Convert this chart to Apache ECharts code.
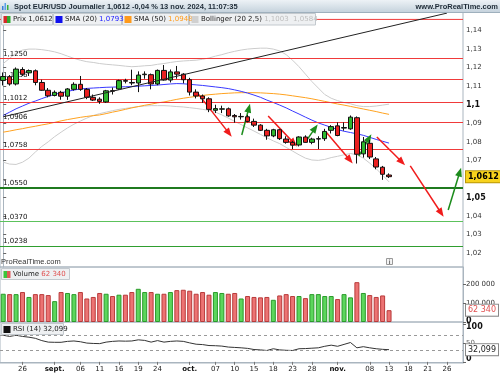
<!DOCTYPE html>
<html>
<head>
<meta charset="utf-8">
<script src="https://cdn.jsdelivr.net/npm/echarts@6/dist/echarts.min.js"></script>
<style>html,body{margin:0;padding:0;background:#fff}#chart{width:500px;height:375px}</style>
</head>
<body>
<div id="chart"></div>
<script>
// trading days, last one is 13 nov. 2024; the rest is empty space on the right
const dates = ['08-21','08-22','08-23','08-26','08-27','08-28','08-29','08-30',
  '09-02','09-03','09-04','09-05','09-06','09-09','09-10','09-11','09-12','09-13','09-16','09-17','09-18','09-19','09-20','09-23','09-24','09-25','09-26','09-27','09-30',
  '10-01','10-02','10-03','10-04','10-07','10-08','10-09','10-10','10-11','10-14','10-15','10-16','10-17','10-18','10-21','10-22','10-23','10-24','10-25','10-28','10-29','10-30','10-31',
  '11-01','11-04','11-05','11-06','11-07','11-08','11-11','11-12','11-13',
  '11-14','11-15','11-18','11-19','11-20','11-21','11-22','11-25','11-26','11-27','11-28'];

const opens  = [1.1131,1.1151,1.1112,1.1190,1.1172,1.1183,1.1120,1.1078,1.1050,1.1067,1.1046,1.1083,1.1110,1.1083,1.1040,1.1030,1.1015,1.1076,1.1085,1.1130,1.1120,1.1117,1.1162,1.1162,1.1112,1.1185,1.1133,1.1177,1.1165,1.1135,1.1068,1.1047,1.1032,1.0970,1.0976,1.0978,1.0942,1.0935,1.0935,1.0910,1.0890,1.0862,1.0832,1.0865,1.0815,1.0797,1.0783,1.0826,1.0797,1.0815,1.0817,1.0862,1.0886,1.0874,1.0870,1.0930,1.0735,1.0792,1.0708,1.0663,1.0621];
const closes = [1.1152,1.1112,1.1192,1.1165,1.1184,1.1120,1.1078,1.1048,1.1067,1.1046,1.1085,1.1110,1.1083,1.1040,1.1025,1.1018,1.1075,1.1073,1.1130,1.1127,1.1117,1.1160,1.1165,1.1112,1.1185,1.1133,1.1177,1.1165,1.1135,1.1068,1.1047,1.1032,1.0975,1.0979,1.0978,1.0940,1.0935,1.0937,1.0910,1.0890,1.0862,1.0832,1.0865,1.0817,1.0797,1.0782,1.0826,1.0797,1.0815,1.0817,1.0856,1.0882,1.0834,1.0877,1.0933,1.0733,1.0800,1.0718,1.0664,1.0625,1.0612];
const lows   = [1.1104,1.1103,1.1104,1.1155,1.1155,1.1105,1.1075,1.1040,1.1045,1.1027,1.1026,1.1076,1.1075,1.1030,1.1020,1.1005,1.1010,1.1055,1.1080,1.1115,1.1105,1.1068,1.1140,1.1083,1.1105,1.1130,1.1120,1.1140,1.1115,1.1050,1.1034,1.1010,1.0960,1.0955,1.0955,1.0935,1.0903,1.0920,1.0905,1.0880,1.0858,1.0811,1.0825,1.0810,1.0790,1.0761,1.0775,1.0795,1.0787,1.0761,1.0805,1.0845,1.0830,1.0860,1.0865,1.0683,1.0715,1.0707,1.0652,1.0595,1.0605];
const highs  = [1.1174,1.1160,1.1201,1.1202,1.1190,1.1190,1.1135,1.1090,1.1077,1.1075,1.1090,1.1121,1.1155,1.1090,1.1055,1.1040,1.1080,1.1093,1.1135,1.1140,1.1189,1.1180,1.1180,1.1168,1.1190,1.1214,1.1190,1.1209,1.1170,1.1145,1.1083,1.1055,1.1040,1.1000,1.0995,1.0985,1.0950,1.0955,1.0945,1.0925,1.0895,1.0870,1.0870,1.0870,1.0830,1.0805,1.0830,1.0835,1.0822,1.0830,1.0870,1.0890,1.0905,1.0905,1.0942,1.0937,1.0826,1.0810,1.0718,1.0670,1.0630];

const sma20 = [1.0942,1.0960,1.0978,1.0993,1.1008,1.1020,1.1033,1.1045,1.1056,1.1064,1.1072,1.1079,1.1085,1.1088,1.1090,1.1092,1.1094,1.1095,1.1096,1.1097,1.1098,1.1100,1.1102,1.1104,1.1106,1.1109,1.1112,1.1114,1.1113,1.1110,1.1107,1.1104,1.1100,1.1096,1.1092,1.1087,1.1080,1.1072,1.1063,1.1052,1.1040,1.1025,1.1012,1.0998,1.0983,1.0966,1.0950,1.0933,1.0917,1.0902,1.0890,1.0878,1.0866,1.0857,1.0850,1.0843,1.0835,1.0824,1.0813,1.0803,1.0793];
const sma50 = [1.0852,1.0858,1.0865,1.0871,1.0878,1.0884,1.0891,1.0897,1.0905,1.0913,1.0920,1.0926,1.0932,1.0937,1.0941,1.0945,1.0952,1.0960,1.0967,1.0975,1.0983,1.0990,1.0997,1.1003,1.1010,1.1015,1.1022,1.1029,1.1035,1.1040,1.1045,1.1050,1.1054,1.1057,1.1060,1.1062,1.1064,1.1065,1.1065,1.1065,1.1064,1.1062,1.1060,1.1057,1.1053,1.1048,1.1043,1.1038,1.1032,1.1025,1.1018,1.1011,1.1004,1.0998,1.0991,1.0984,1.0977,1.0970,1.0963,1.0955,1.0948];
const bollUp = [1.1222,1.1250,1.1280,1.1295,1.1300,1.1300,1.1297,1.1292,1.1285,1.1275,1.1262,1.1250,1.1240,1.1232,1.1228,1.1222,1.1218,1.1215,1.1212,1.1208,1.1205,1.1207,1.1210,1.1212,1.1218,1.1222,1.1228,1.1233,1.1236,1.1238,1.1240,1.1245,1.1252,1.1262,1.1270,1.1280,1.1288,1.1295,1.1300,1.1303,1.1305,1.1305,1.1300,1.1290,1.1270,1.1240,1.1205,1.1165,1.1125,1.1090,1.1055,1.1035,1.1022,1.1012,1.1005,1.0995,1.0990,1.0990,1.0993,1.0998,1.1003];
const bollLow = [1.0690,1.0680,1.0678,1.0690,1.0712,1.0745,1.0775,1.0800,1.0828,1.0852,1.0875,1.0895,1.0912,1.0928,1.0942,1.0952,1.0960,1.0968,1.0975,1.0980,1.0985,1.0990,1.0993,1.0995,1.0995,1.0995,1.0993,1.0990,1.0988,1.0984,1.0980,1.0975,1.0970,1.0960,1.0945,1.0928,1.0910,1.0893,1.0875,1.0858,1.0840,1.0822,1.0805,1.0790,1.0770,1.0750,1.0730,1.0712,1.0702,1.0700,1.0705,1.0715,1.0722,1.0730,1.0737,1.0730,1.0712,1.0685,1.0655,1.0620,1.0584];

const volumes = [149000,147000,147000,158000,132000,147000,147000,142000,110000,158000,153000,147000,158000,124000,132000,153000,149000,137000,144000,144000,158000,175000,158000,158000,149000,149000,158000,168000,170000,165000,149000,158000,144000,158000,153000,149000,153000,124000,137000,132000,130000,132000,117000,140000,147000,137000,137000,126000,147000,147000,137000,137000,121000,147000,130000,210000,153000,142000,132000,140000,62340];
const rsi = [70,67,70,67,65,62,56,52,51.5,51.5,54,55,53,49.5,48.5,48,52,54,55,54.5,55,58,56.5,52,56,52,54,55,54,50,46.5,45.5,43,42.5,41.5,39,38,37,35.5,32.5,31.5,30,34.5,31.5,30.5,30,34.5,35,36,37,41,44,41,46,51,37,40,37,34.5,33,32.099];

// drawn levels and annotations (x = trading-day index)
const redLevels = [1.1250,1.1136,1.1012,1.0906,1.0758];
const topLevel = 1.1460;
const greenLevels = [1.0550,1.0370,1.0238];
const trendLine = [[0,1.0935],[69,1.1494]];
const redArrows = [[30.1,1.1068,35.1,1.0847],[41.2,1.0939,45.2,1.0793],[50.2,1.0853,53.9,1.0702],[58.1,1.0826,62.0,1.0691],[63.3,1.0670,68.1,1.0416]];
const greenArrows = [[37.1,1.0837,38.2,1.0982],[47.1,1.0804,48.5,1.0874],[55.3,1.0723,56.9,1.0820],[69.2,1.0432,71.0,1.0637]];

const priceTicks = [1.02,1.03,1.04,1.05,1.06,1.07,1.08,1.09,1.10,1.11,1.12,1.13,1.14];
const volumeTicks = [0,100000,200000];
const rsiTicks = [0,50,100];
const tickDates = ['08-26','09-02','09-06','09-11','09-16','09-19','09-24','10-01','10-07','10-10','10-15','10-18','10-23','10-28','11-01','11-08','11-13','11-18','11-21','11-26'];
const tickTexts = ['26','sept.','06','11','16','19','24','oct.','07','10','15','18','23','28','nov.','08','13','18','21','26'];

const last = closes.length - 1;
const comma = (v, d) => v.toFixed(d).replace('.', ',');
const spaced = v => String(v).replace(/\B(?=(\d{3})+(?!\d))/g, ' ');

function fmtPrice(v) {
  let s = v.toFixed(2);
  if (s.endsWith('0')) s = s.slice(0, -1);
  s = s.replace('.', ',');
  return Math.round(v * 100) % 5 === 0 ? '{b|' + s + '}' : '{n|' + s + '}';
}
const isTick = (i, v) => tickDates.indexOf(v) >= 0;
function fmtDate(v) {
  const k = tickDates.indexOf(v);
  if (k < 0) return '';
  const t = tickTexts[k];
  return t.indexOf('.') > 0 ? '{m|' + t + '}' : t;
}

const candles = opens.map((o, i) => [o, closes[i], lows[i], highs[i]]);
const upVol = {color: '#5cd65c', borderColor: '#2b9b2b', borderWidth: 1};
const downVol = {color: '#ec7373', borderColor: '#b93b3b', borderWidth: 1};
const volData = volumes.map((v, i) => ({value: v, itemStyle: closes[i] >= opens[i] ? upVol : downVol}));

const arrowLines = redArrows.map(a => [{coord: [a[0], a[1]], lineStyle: {color: '#f01c1c'}}, {coord: [a[2], a[3]]}])
  .concat(greenArrows.map(a => [{coord: [a[0], a[1]], lineStyle: {color: '#1c8c1c'}}, {coord: [a[2], a[3]]}]));

const levelLines = redLevels.map(v => ({yAxis: v, lineStyle: {color: '#f03a3a', width: 1, type: 'solid'}}))
  .concat([
    {yAxis: greenLevels[0], lineStyle: {color: '#1f7a1f', width: 2, type: 'solid'}},
    {yAxis: greenLevels[1], lineStyle: {color: '#5cc25c', width: 1, type: 'solid'}},
    {yAxis: greenLevels[2], lineStyle: {color: '#2f9e2f', width: 1, type: 'solid'}}
  ]);

const font = '"Liberation Sans", Arial, sans-serif';
const axisFont = '"DejaVu Sans", Verdana, sans-serif';

const valueTag = (value, text, color, bg, border) => ({
  symbol: 'none', silent: true, precision: 5,
  lineStyle: {color: 'rgba(0,0,0,0)', width: 0},
  label: {show: true, position: 'end', distance: 3, formatter: text, color: color, fontSize: 8,
    fontFamily: axisFont, backgroundColor: bg, borderColor: border, borderWidth: 1, padding: [2, 2, 1, 2]},
  data: [{yAxis: value}]
});

const gray = '#aab5bf';
const option = {
  animation: false,
  textStyle: {fontFamily: axisFont},
  grid: [
    {left: 0, right: 37, top: 12, height: 255, show: true, borderColor: gray, borderWidth: 1},
    {left: 0, right: 37, top: 267, height: 55, show: true, borderColor: gray, borderWidth: 1},
    {left: 0, right: 37, top: 322, height: 41, show: true, borderColor: gray, borderWidth: 1}
  ],
  xAxis: [
    {type: 'category', gridIndex: 0, data: dates, axisLine: {show: false}, axisTick: {show: false}, axisLabel: {show: false}},
    {type: 'category', gridIndex: 1, data: dates, axisLine: {show: false}, axisTick: {show: false}, axisLabel: {show: false}},
    {type: 'category', gridIndex: 2, data: dates,
      axisLine: {lineStyle: {color: gray}},
      axisTick: {show: true, interval: isTick, alignWithLabel: true, length: 3, lineStyle: {color: '#777'}},
      axisLabel: {interval: isTick, formatter: fmtDate, fontSize: 7, color: '#222', margin: 3,
        rich: {m: {fontWeight: 'bold', fontSize: 7, fontFamily: axisFont, color: '#111'}}}},
    {type: 'value', gridIndex: 0, min: -0.5, max: dates.length - 0.5, show: false}
  ],
  yAxis: [
    {type: 'value', gridIndex: 0, position: 'right', min: 1.0125, max: 1.15,
      splitLine: {show: false},
      axisLine: {show: true, lineStyle: {color: gray}},
      axisTick: {show: true, customValues: priceTicks, length: 3, lineStyle: {color: '#666'}},
      axisLabel: {customValues: priceTicks, formatter: fmtPrice, margin: 3,
        rich: {b: {fontWeight: 'bold', fontSize: 8, fontFamily: axisFont, color: '#111'},
               n: {fontSize: 7, fontFamily: axisFont, color: '#333'}}}},
    {type: 'value', gridIndex: 1, position: 'right', min: 0, max: 290000,
      splitLine: {show: false},
      axisLine: {show: true, lineStyle: {color: gray}},
      axisTick: {show: true, customValues: volumeTicks, length: 3, lineStyle: {color: '#666'}},
      axisLabel: {customValues: volumeTicks, margin: 3, showMinLabel: true, hideOverlap: false,
        formatter: v => v === 0 ? '{z|0}' : '{n|' + spaced(v) + '}',
        rich: {n: {fontSize: 7, fontFamily: axisFont, color: '#333'},
               z: {fontSize: 8, fontWeight: 'bold', fontFamily: axisFont, color: '#111', padding: [0, 0, 3, 0]}}}},
    {type: 'value', gridIndex: 2, position: 'right', min: -3, max: 105,
      splitLine: {show: false},
      axisLine: {show: true, lineStyle: {color: gray}},
      axisTick: {show: true, customValues: rsiTicks, length: 3, lineStyle: {color: '#666'}},
      axisLabel: {customValues: rsiTicks, margin: 3,
        formatter: v => v === 100 ? '{t|100}' : (v === 0 ? '{z|0}' : '{n|50}'),
        rich: {n: {fontSize: 7, fontFamily: axisFont, color: '#666'},
               t: {fontSize: 8, fontWeight: 'bold', fontFamily: axisFont, color: '#111', padding: [6, 0, 0, 0]},
               z: {fontSize: 8, fontWeight: 'bold', fontFamily: axisFont, color: '#111', padding: [0, 0, 6, 0]}}}}
  ],
  series: [
    {name: 'levels', type: 'line', xAxisIndex: 3, yAxisIndex: 0, data: [], z: 1, silent: true,
      markLine: {symbol: 'none', silent: true, precision: 4,
        label: {show: true, position: 'insideStartTop', distance: [3, 1], fontSize: 7, fontFamily: axisFont, color: '#111',
          formatter: p => comma(p.value, 4)},
        data: levelLines}},
    {name: 'top level', type: 'line', xAxisIndex: 3, yAxisIndex: 0, z: 1, silent: true, symbol: 'none',
      data: [[-0.5, topLevel], [dates.length - 0.5, topLevel]], lineStyle: {color: '#f03a3a', width: 1}},
    {name: 'Bollinger haut', type: 'line', data: bollUp, symbol: 'none', z: 2, lineStyle: {color: '#cccccc', width: 1}},
    {name: 'Bollinger bas', type: 'line', data: bollLow, symbol: 'none', z: 2, lineStyle: {color: '#cccccc', width: 1}},
    {name: 'SMA (50)', type: 'line', data: sma50, symbol: 'none', z: 3, lineStyle: {color: '#ffa21f', width: 1}},
    {name: 'SMA (20)', type: 'line', data: sma20, symbol: 'none', z: 3, lineStyle: {color: '#3838ff', width: 1}},
    {name: 'Prix', type: 'candlestick', data: candles, barWidth: 5, z: 5,
      itemStyle: {color: '#2eb82e', color0: '#ea2020', borderColor: '#111', borderColor0: '#111', borderWidth: 1},
      markLine: Object.assign(valueTag(closes[last], comma(closes[last], 4), '#000', '#f7d21c', '#b8960a'),
        {label: {show: true, position: 'end', distance: 3, formatter: comma(closes[last], 4), color: '#000', fontSize: 8,
          fontWeight: 'bold', fontFamily: axisFont, backgroundColor: '#f7d21c', borderColor: '#b8960a', borderWidth: 1, padding: [2, 2, 1, 2]}})},
    {name: 'trend', type: 'line', xAxisIndex: 3, yAxisIndex: 0, data: trendLine, symbol: 'none', z: 6,
      lineStyle: {color: '#222', width: 1}},
    {name: 'arrows', type: 'line', xAxisIndex: 3, yAxisIndex: 0, data: [], z: 7, silent: true,
      markLine: {symbol: ['none', 'triangle'], symbolSize: [7, 9], silent: true, precision: 4, label: {show: false},
        lineStyle: {type: 'solid', width: 1.5}, data: arrowLines}},
    {name: 'Volume', type: 'bar', xAxisIndex: 1, yAxisIndex: 1, data: volData, barWidth: 5,
      markLine: valueTag(volumes[last], spaced(volumes[last]), '#e05050', '#fff', '#888')},
    {name: 'RSI', type: 'line', xAxisIndex: 2, yAxisIndex: 2, data: rsi, symbol: 'none',
      lineStyle: {color: '#333', width: 1},
      markLine: {symbol: 'none', silent: true, label: {show: false},
        lineStyle: {type: [3, 3], color: '#999', width: 1},
        data: [{yAxis: 70}, {yAxis: 30}]}},
    {name: 'RSI tag', type: 'line', xAxisIndex: 2, yAxisIndex: 2, data: [],
      markLine: valueTag(rsi[last], comma(rsi[last], 3), '#222', '#fff', '#888')}
  ],
  graphic: [
    {type: 'rect', z: 100, shape: {x: 0, y: 0, width: 500, height: 12},
      style: {fill: new echarts.graphic.LinearGradient(0, 0, 0, 1, [{offset: 0, color: '#edf2f6'}, {offset: 1, color: '#c6d3dd'}])}},
    {type: 'line', z: 100, shape: {x1: 0, y1: 12.5, x2: 500, y2: 12.5}, style: {stroke: '#9fb0bd'}},
    {type: 'rect', z: 101, shape: {x: 2, y: 6, width: 1.5, height: 4}, style: {fill: '#3b7fd9'}},
    {type: 'rect', z: 101, shape: {x: 4.5, y: 3, width: 1.5, height: 7}, style: {fill: '#5aa0e8'}},
    {type: 'rect', z: 101, shape: {x: 7, y: 5, width: 1.5, height: 5}, style: {fill: '#38b038'}},
    {type: 'text', z: 101, x: 14, y: 6.5, style: {text: 'Spot EUR/USD Journalier 1,0612 -0,04 % 13 nov. 2024, 11:07:35',
      font: 'bold 7.5px ' + font, fill: '#1d2a36', verticalAlign: 'middle'}},
    {type: 'text', z: 101, x: 498, y: 6.5, style: {text: 'www.ProRealTime.com', font: 'bold 7.5px ' + font, fill: '#1d2a36',
      align: 'right', verticalAlign: 'middle'}},

    {type: 'rect', z: 100, shape: {x: 1.5, y: 13.5, width: 51, height: 11.5}, style: {fill: '#eef0f2', stroke: '#c3c9ce'}},
    {type: 'rect', z: 101, shape: {x: 3.5, y: 16, width: 3.5, height: 7}, style: {fill: '#d42a2a'}},
    {type: 'rect', z: 101, shape: {x: 7, y: 16, width: 3.5, height: 7}, style: {fill: '#2eaa2e'}},
    {type: 'text', z: 101, x: 13, y: 19.5, style: {text: 'Prix 1,0612', font: '7px ' + axisFont, fill: '#222', verticalAlign: 'middle'}},

    {type: 'rect', z: 100, shape: {x: 53.5, y: 13.5, width: 68, height: 11.5}, style: {fill: '#eef0f2', stroke: '#c3c9ce'}},
    {type: 'rect', z: 101, shape: {x: 55.5, y: 16, width: 7, height: 7}, style: {fill: '#1010ee'}},
    {type: 'text', z: 101, x: 65, y: 19.5, style: {text: '{k|SMA (20) }{v|1,0793}', verticalAlign: 'middle',
      rich: {k: {font: '7px ' + axisFont, fill: '#222'}, v: {font: '7px ' + axisFont, fill: '#2020ff'}}}},

    {type: 'rect', z: 100, shape: {x: 122.5, y: 13.5, width: 66, height: 11.5}, style: {fill: '#eef0f2', stroke: '#c3c9ce'}},
    {type: 'rect', z: 101, shape: {x: 124.5, y: 16, width: 7, height: 7}, style: {fill: '#ff9a1a'}},
    {type: 'text', z: 101, x: 134, y: 19.5, style: {text: '{k|SMA (50) }{v|1,0948}', verticalAlign: 'middle',
      rich: {k: {font: '7px ' + axisFont, fill: '#222'}, v: {font: '7px ' + axisFont, fill: '#ff9a1a'}}}},

    {type: 'rect', z: 100, shape: {x: 189.5, y: 13.5, width: 126, height: 11.5}, style: {fill: '#eef0f2', stroke: '#c3c9ce'}},
    {type: 'rect', z: 101, shape: {x: 191.5, y: 16, width: 7, height: 7}, style: {fill: '#d0d0d0'}},
    {type: 'text', z: 101, x: 201, y: 19.5, style: {text: '{k|Bollinger (20 2,5) }{v|1,1003  1,0584}', verticalAlign: 'middle',
      rich: {k: {font: '7px ' + axisFont, fill: '#222'}, v: {font: '7px ' + axisFont, fill: '#bdbdbd'}}}},

    {type: 'text', z: 101, x: 1, y: 262, style: {text: 'ProRealTime.com', font: '7.5px ' + font, fill: '#333', verticalAlign: 'middle'}},
    {type: 'rect', z: 101, shape: {x: 386.5, y: 258.5, width: 6, height: 6}, style: {fill: '#f4f4f4', stroke: '#999'}},
    {type: 'text', z: 102, x: 389.5, y: 262, style: {text: 'i', font: 'bold 6px ' + axisFont, fill: '#777', align: 'center', verticalAlign: 'middle'}},

    {type: 'rect', z: 100, shape: {x: 1.5, y: 268.5, width: 68, height: 11}, style: {fill: '#eef0f2', stroke: '#c3c9ce'}},
    {type: 'rect', z: 101, shape: {x: 3.5, y: 271, width: 3.5, height: 7}, style: {fill: '#3cc43c'}},
    {type: 'rect', z: 101, shape: {x: 7, y: 271, width: 3.5, height: 7}, style: {fill: '#e05a5a'}},
    {type: 'text', z: 101, x: 13, y: 274.5, style: {text: '{k|Volume }{v|62 340}', verticalAlign: 'middle',
      rich: {k: {font: '7px ' + axisFont, fill: '#222'}, v: {font: '7px ' + axisFont, fill: '#e05050'}}}},

    {type: 'rect', z: 100, shape: {x: 1.5, y: 323.5, width: 62, height: 11}, style: {fill: '#eef0f2', stroke: '#c3c9ce'}},
    {type: 'rect', z: 101, shape: {x: 3.5, y: 326, width: 7, height: 7}, style: {fill: '#111'}},
    {type: 'text', z: 101, x: 13, y: 329.5, style: {text: 'RSI (14) 32,099', font: '7px ' + axisFont, fill: '#222', verticalAlign: 'middle'}}
  ]
};

const chart = echarts.init(document.getElementById('chart'));
chart.setOption(option);
</script>
</body>
</html>
